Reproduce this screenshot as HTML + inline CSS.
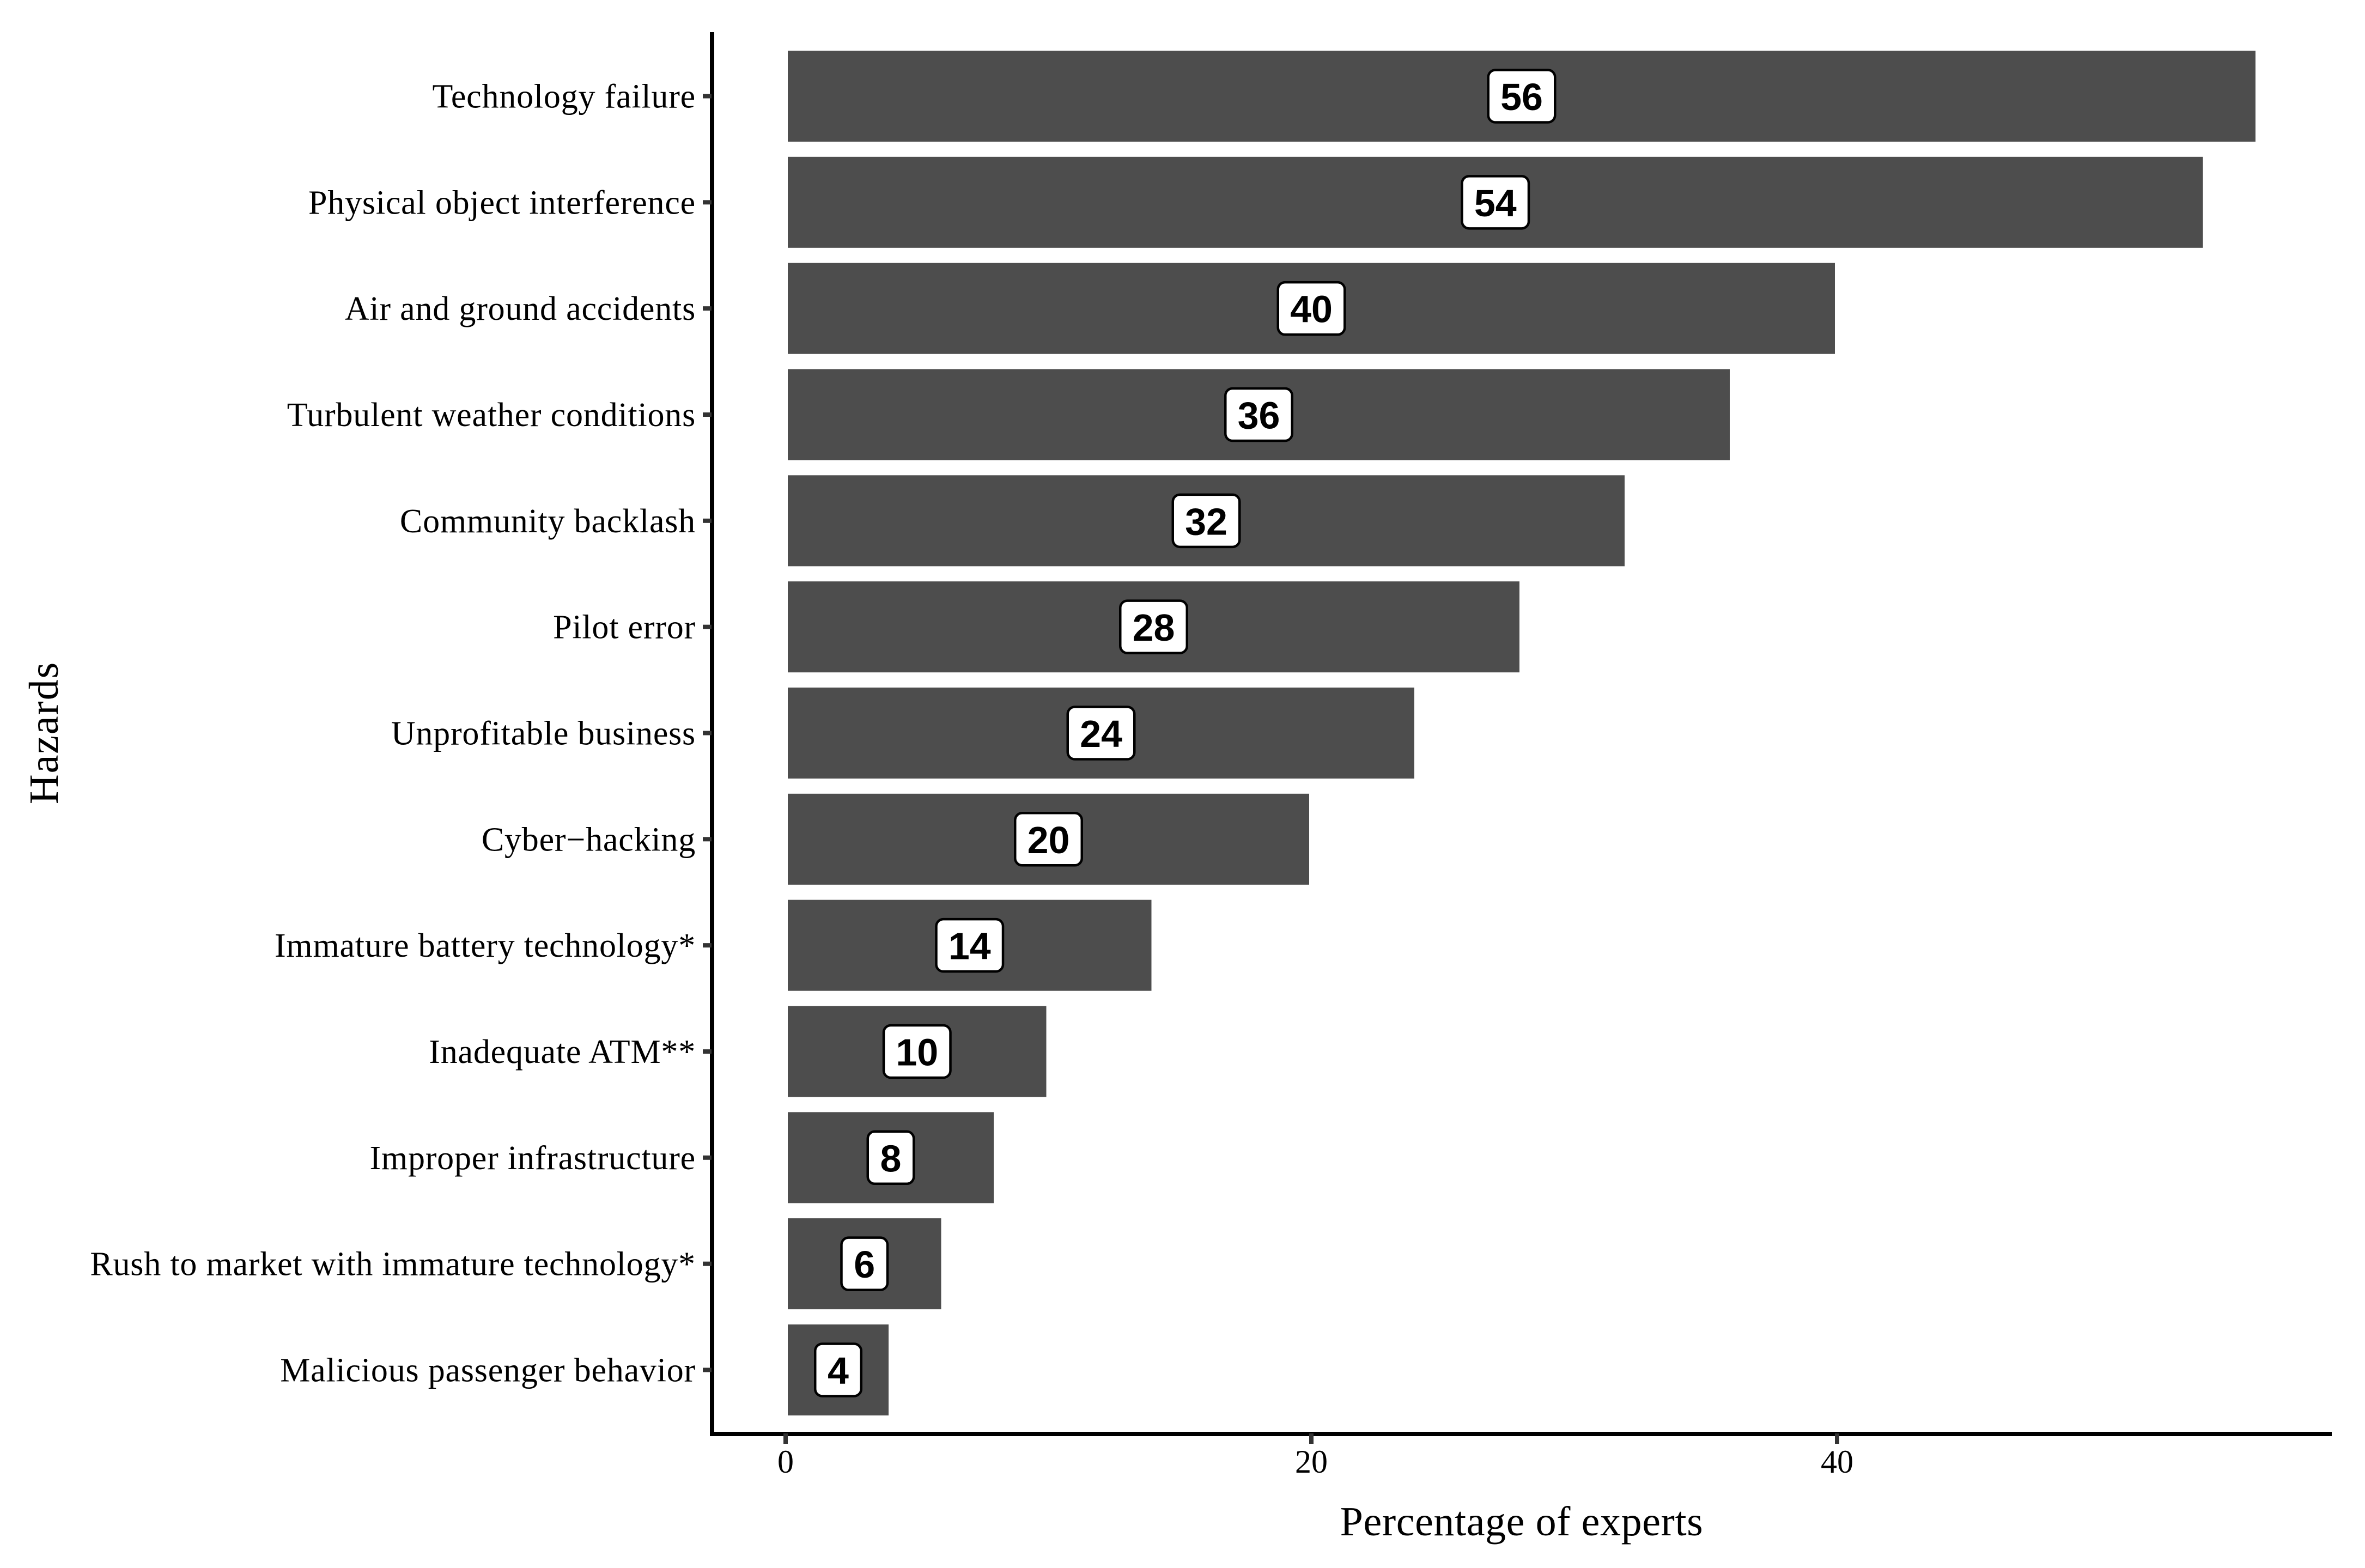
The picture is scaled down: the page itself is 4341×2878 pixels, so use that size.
<!DOCTYPE html>
<html lang="en">
<head>
<meta charset="utf-8">
<title>Hazards by percentage of experts</title>
<style>
html,body{margin:0;padding:0;background:#fff;}
svg{display:block;}
text{font-family:"Liberation Serif",serif;fill:#000;}
.bar-value{font-family:"Liberation Sans",sans-serif;font-weight:700;font-size:70px;text-anchor:middle;}
.cat{font-size:62px;letter-spacing:0.8px;text-anchor:end;}
.xtick{font-size:60px;text-anchor:middle;}
</style>
</head>
<body>
<svg id="chart" xmlns="http://www.w3.org/2000/svg" width="4341" height="2878" viewBox="0 0 4341 2878">
<rect x="0" y="0" width="4341" height="2878" fill="#fff"/>
<line x1="1307" y1="59" x2="1307" y2="2636" stroke="#000" stroke-width="8"/>
<line x1="1303" y1="2632" x2="4280" y2="2632" stroke="#000" stroke-width="8"/>
<g id="marks"></g>
<text x="2793" y="2818" font-size="76" letter-spacing="0.6" text-anchor="middle">Percentage of experts</text>
<text transform="translate(106,1345) rotate(-90)" font-size="76" letter-spacing="1.9" text-anchor="middle">Hazards</text>
</svg>
<script>
const categories = ["Technology failure","Physical object interference","Air and ground accidents","Turbulent weather conditions","Community backlash","Pilot error","Unprofitable business","Cyber\u2212hacking","Immature battery technology*","Inadequate ATM**","Improper infrastructure","Rush to market with immature technology*","Malicious passenger behavior"];
const percentages = [56,54,40,36,32,28,24,20,14,10,8,6,4];
const xTicks = [0,20,40];

const NS = "http://www.w3.org/2000/svg";
const marks = document.getElementById("marks");
const xScale = v => 1442 + v * 48.25;
const yScale = i => 176.5 + i * 194.83;

function make(tag, attrs, parent) {
  const el = document.createElementNS(NS, tag);
  for (const k in attrs) el.setAttribute(k, attrs[k]);
  parent.appendChild(el);
  return el;
}

categories.forEach((cat, i) => {
  const y = yScale(i);
  const v = percentages[i];
  const bar = make("rect", {x: xScale(0) + 4, y: y - 83.5, width: xScale(v) - xScale(0) - 8, height: 167, fill: "#4d4d4d"}, marks);
  
  

  const tick = make("line", {x1: 1290, x2: 1306, y1: y, y2: y, stroke: "#333", "stroke-width": 8}, marks);
  
  

  const label = make("text", {x: 1277, y: y + 21, class: "cat"}, marks);
  label.textContent = cat;
  
  

  const cx = xScale(v / 2);
  const text = String(v);
  const w = text.length * 38 + 46.5;
  const box = make("rect", {x: cx - w / 2, y: y - 48, width: w, height: 96, rx: 13, ry: 13, fill: "#fff", stroke: "#000", "stroke-width": 4.5}, marks);
  
  

  const val = make("text", {x: cx, y: y + 25.5, class: "bar-value"}, marks);
  val.textContent = text;
  
  
});

xTicks.forEach(t => {
  const x = xScale(t);
  const tick = make("line", {x1: x, x2: x, y1: 2631, y2: 2650, stroke: "#333", "stroke-width": 8}, marks);
  
  

  const label = make("text", {x: x, y: 2703, class: "xtick"}, marks);
  label.textContent = t;
  
  
});
</script>
</body>
</html>
